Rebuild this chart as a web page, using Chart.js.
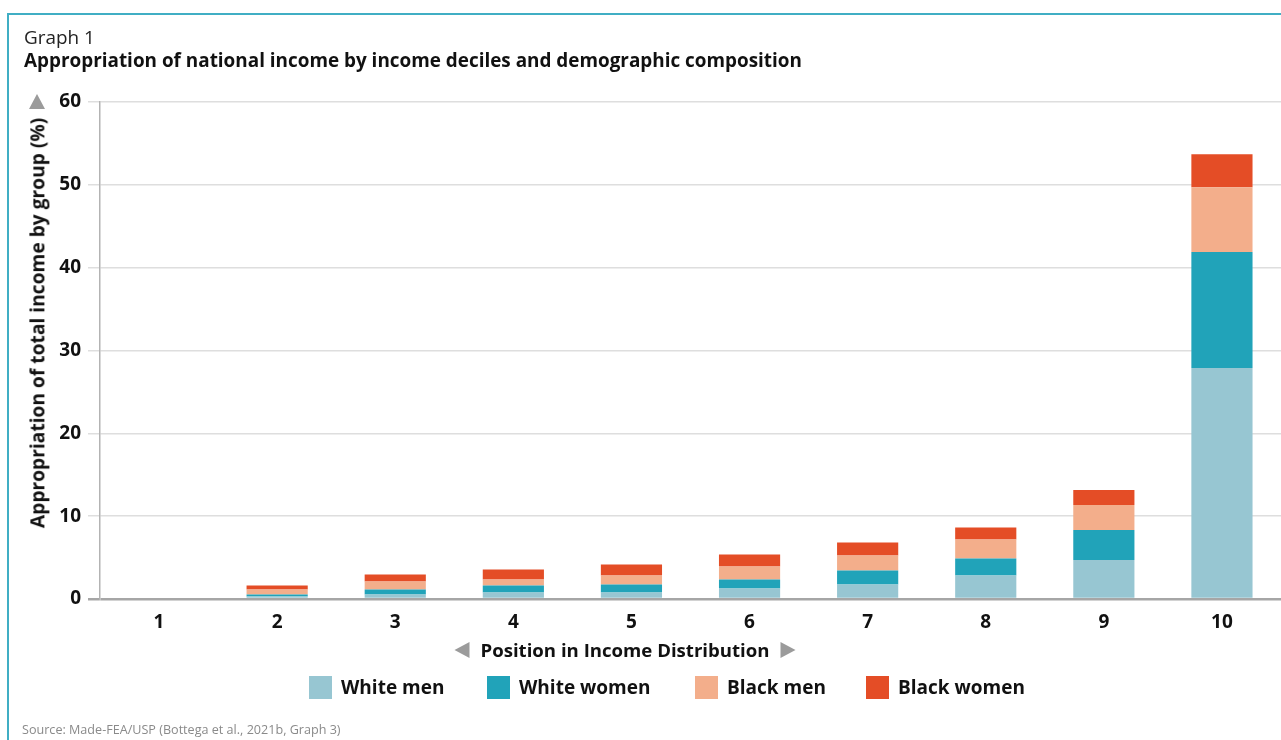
<!DOCTYPE html>
<html>
<head>
<meta charset="utf-8">
<script src="https://cdn.jsdelivr.net/npm/chart.js@4"></script>
<style>
  html, body { margin: 0; padding: 0; background: #fff; }
  body { width: 1281px; height: 740px; position: relative; overflow: hidden; font-family: "Open Sans", sans-serif; color: #111; }
  .frame { position: absolute; left: 7px; top: 13px; width: 1300px; height: 760px; border-top: 2px solid #40aec4; border-left: 2px solid #40aec4; }
  .abs { position: absolute; white-space: nowrap; line-height: 1; }
  #graphNo { left: 24px; top: 28px; font-size: 18.9px; color: #222; }
  #title { left: 24px; top: 51px; font-size: 18.9px; font-weight: 700; }
  #yTitle { left: 37px; top: 323px; font-size: 19.2px; font-weight: 700; transform: translate(-50%, -50%) rotate(-90deg); }
  #yArrow { left: 29px; top: 94px; width: 0; height: 0; border-left: 8px solid transparent; border-right: 8px solid transparent; border-bottom: 15px solid #9b9b9b; }
  #xTitle { left: 625px; top: 641px; transform: translateX(-50%); font-size: 18.6px; font-weight: 700; display: flex; align-items: center; gap: 11px; }
  .tri-l { width: 0; height: 0; border-top: 8px solid transparent; border-bottom: 8px solid transparent; border-right: 15px solid #9b9b9b; }
  .tri-r { width: 0; height: 0; border-top: 8px solid transparent; border-bottom: 8px solid transparent; border-left: 15px solid #9b9b9b; }
  .leg { position: absolute; top: 676px; display: flex; align-items: center; font-size: 19px; font-weight: 700; line-height: 23px; white-space: nowrap; }
  .leg i { display: inline-block; width: 23px; height: 23px; margin-right: 9px; }
  #source { left: 22px; top: 724px; font-size: 12.6px; color: #8a8a8a; }
  #wrap { position: absolute; left: 0; top: 0; width: 1281px; height: 740px; }
</style>
</head>
<body>
<div class="frame"></div>
<div id="wrap"><canvas id="chart"></canvas></div>
<div class="abs" id="graphNo">Graph 1</div>
<div class="abs" id="title">Appropriation of national income by income deciles and demographic composition</div>
<div id="yArrow" class="abs"></div>
<div class="abs" id="yTitle">Appropriation of total income by group (%)</div>
<div class="abs" id="xTitle"><span class="tri-l"></span><span>Position in Income Distribution</span><span class="tri-r"></span></div>
<div id="legend"></div>
<div class="abs" id="source">Source: Made-FEA/USP (Bottega et al., 2021b, Graph 3)</div>

<script>
// Income deciles on the x axis
const deciles = ['1', '2', '3', '4', '5', '6', '7', '8', '9', '10'];

// Share of total national income (%) held by each group within each decile
const whiteMen   = [0, 0.30, 0.54, 0.79, 0.79, 1.27, 1.75, 2.84, 4.71, 27.9];
const whiteWomen = [0, 0.25, 0.60, 0.84, 0.96, 1.09, 1.69, 2.05, 3.62, 14.0];
const blackMen   = [0, 0.60, 0.97, 0.73, 1.09, 1.57, 1.82, 2.30, 3.02, 7.8];
const blackWomen = [0, 0.47, 0.85, 1.20, 1.33, 1.45, 1.57, 1.45, 1.81, 4.0];

const groupNames  = ['White men', 'White women', 'Black men', 'Black women'];
const groupColors = ['#97c6d2', '#21a3b9', '#f3ae8b', '#e44d26'];
const yTicks = [0, 10, 20, 30, 40, 50, 60];

const series = [whiteMen, whiteWomen, blackMen, blackWomen];

// Legend built from the group names and colours
const legendLeft = [309, 487, 695, 866];
const legendEl = document.getElementById('legend');
groupNames.forEach((name, i) => {
  const item = document.createElement('div');
  item.className = 'leg';
  item.style.left = legendLeft[i] + 'px';
  const sw = document.createElement('i');
  sw.style.background = groupColors[i];
  item.appendChild(sw);
  item.appendChild(document.createTextNode(name));
  legendEl.appendChild(item);
});

const tickFont = { family: '"Open Sans", sans-serif', size: 19, weight: '700' };

new Chart(document.getElementById('chart'), {
  type: 'bar',
  data: {
    labels: deciles,
    datasets: series.map((vals, i) => ({
      label: groupNames[i],
      data: vals,
      backgroundColor: groupColors[i],
      borderWidth: 0,
      categoryPercentage: 1.0,
      barPercentage: 0.518
    }))
  },
  options: {
    responsive: true,
    maintainAspectRatio: false,
    animation: false,
    devicePixelRatio: 1,
    layout: { padding: { top: 102, bottom: 111, left: 0, right: 0 } },
    plugins: {
      legend: { display: false },
      tooltip: { enabled: false },
      title: { display: false }
    },
    scales: {
      x: {
        stacked: true,
        grid: { display: false },
        border: { display: false },
        ticks: { font: tickFont, color: '#111', padding: 4, maxRotation: 0 },
        afterFit: s => { s.height = 30; }
      },
      y: {
        stacked: true,
        min: yTicks[0],
        max: yTicks[yTicks.length - 1],
        afterBuildTicks: s => { s.ticks = yTicks.map(v => ({ value: v })); },
        ticks: { font: tickFont, color: '#111', padding: 7 },
        grid: {
          drawTicks: true,
          tickLength: 12,
          color: c => (c.tick && c.tick.value === 0 ? '#a6a6a6' : '#dedede'),
          lineWidth: c => (c.tick && c.tick.value === 0 ? 2.5 : 1.5)
        },
        border: { display: true, color: '#b3b3b3', width: 1.5 },
        afterFit: s => { s.width = 100; }
      }
    }
  }
});
</script>
</body>
</html>
